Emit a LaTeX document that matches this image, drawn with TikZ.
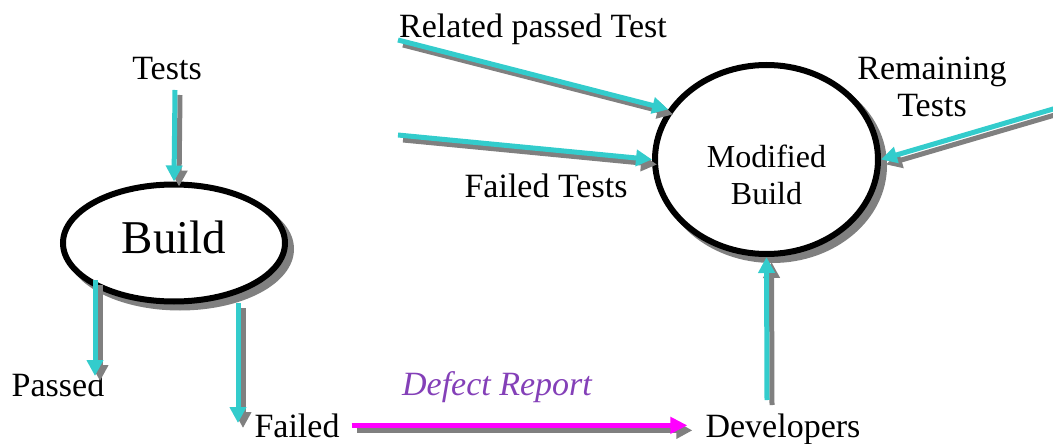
\documentclass[tikz,border=0pt]{standalone}
\usepackage{fontspec}
\setmainfont{Liberation Serif}
\usetikzlibrary{arrows.meta,shapes.geometric}
\definecolor{flowteal}{RGB}{51,204,204}
\definecolor{shadegray}{RGB}{128,128,128}
\definecolor{reportpurple}{RGB}{132,64,184}
\definecolor{reportpink}{RGB}{255,0,255}
\tikzset{
  stage/.style={ellipse, draw=black, line width=6pt, fill=white,
    preaction={draw=shadegray, fill=shadegray, transform canvas={shift={(6pt,-6pt)}}}},
  lbl/.style={font=\fontsize{34}{37}\selectfont, inner sep=0pt},
  flowline/.style={line width=5pt, flowteal, -{Triangle[length=16pt,width=16pt]}},
  shadowline/.style={line width=5pt, shadegray, -{Triangle[length=16pt,width=16pt]}},
  reportline/.style={line width=4.5pt, reportpink, -{Triangle[length=17pt,width=16pt]}},
}
% shadow first, then the coloured arrow on top
\newcommand\flowto[3][flowline]{%
  \draw[shadowline]([shift={(5pt,-5pt)}]#2)--([shift={(5pt,-5pt)}]#3);
  \draw[#1](#2)--(#3);}
\begin{document}
\begin{tikzpicture}[x=1pt,y=-1pt]
\useasboundingbox (0,0) rectangle (1053,444);
% the two builds
\node[stage, minimum width=222pt, minimum height=117pt](build)at(174,243){};
\node[font=\fontsize{47}{52}\selectfont, anchor=base](buildtxt)at([yshift=-10pt]build.center){Build};
\node[stage, minimum width=223pt, minimum height=189pt](mod)at(766.5,159.5){};
\node[font=\fontsize{32}{37}\selectfont, align=center](modtxt)at([yshift=-15pt]mod.center){Modified\\Build};
% labels
\node[lbl, anchor=base](tests)at(167,80){Tests};
\node[lbl, anchor=base](passed)at(58,396){Passed};
\node[lbl, anchor=base](failed)at(297,437){Failed};
\node[lbl, anchor=base](devs)at(783,437){Developers};
\node[lbl, anchor=base](related)at(533,38){Related passed Test};
\node[lbl, anchor=base](failedtests)at(546,197){Failed Tests};
\node[lbl, align=center](remain)at(932,87){Remaining\\Tests};
\node[lbl, anchor=base, font=\fontsize{34}{37}\selectfont\itshape, text=reportpurple](report)at(497,395){Defect Report};
% free ends
\coordinate(t0)at(175,90);
\coordinate(p0)at(95,280);
\coordinate(p1)at(95,376);
\coordinate(f0)at(238,303);
\coordinate(f1)at(238,423);
\coordinate(r0)at([xshift=12pt]failed.east);
\coordinate(r1)at([xshift=-18pt]devs.west |- r0);
\coordinate(d0)at(767,400);
\coordinate(a0)at(398,40);
\coordinate(b0)at(398,135);
\coordinate(m0)at(1060,107);
% arrows
\flowto{t0}{build.north}
\flowto{p0}{p1}
\flowto{f0}{f1}
\flowto[reportline]{r0}{r1}
\flowto{d0}{mod.south}
\flowto{a0}{mod.153}
\flowto{b0}{mod.west}
\flowto{m0}{mod.east}
\end{tikzpicture}
\end{document}
